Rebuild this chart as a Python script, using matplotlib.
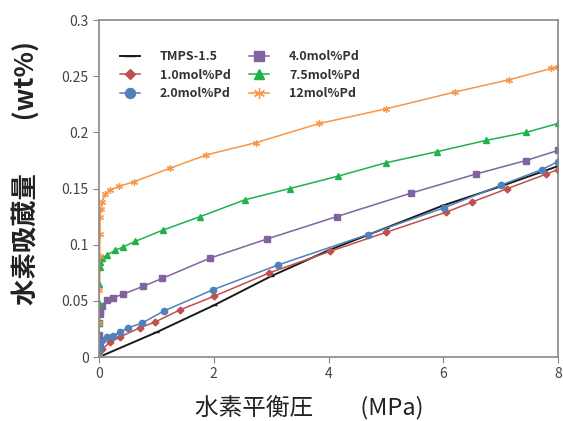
import matplotlib
matplotlib.use("Agg")
import matplotlib.pyplot as plt

plt.rcParams['font.family'] = ['Noto Sans CJK JP', 'DejaVu Sans']

# hydrogen equilibrium pressure (MPa) / hydrogen uptake (wt%)
tmps_x = [0, 1, 2, 3, 4, 5, 6, 7, 8]
tmps_y = [0, 0.022, 0.046, 0.072, 0.095, 0.115, 0.135, 0.152, 0.170]

pd10_x = [0, 0.05, 0.19, 0.37, 0.71, 0.97, 1.41, 2.0, 2.97, 4.02, 5.0, 6.05, 6.5, 7.12, 7.8, 8.0]
pd10_y = [0, 0.007, 0.013, 0.018, 0.026, 0.031, 0.042, 0.054, 0.075, 0.094, 0.111, 0.129, 0.138, 0.150, 0.163, 0.167]

pd20_x = [0, 0.005, 0.01, 0.02, 0.05, 0.13, 0.25, 0.36, 0.5, 0.74, 1.13, 1.99, 3.12, 4.68, 6.02, 7.0, 7.72, 8.0]
pd20_y = [0, 0.005, 0.01, 0.013, 0.015, 0.018, 0.019, 0.022, 0.026, 0.030, 0.041, 0.060, 0.082, 0.109, 0.133, 0.153, 0.167, 0.174]

pd40_x = [0, 0, 0.005, 0.01, 0.02, 0.05, 0.13, 0.25, 0.42, 0.77, 1.1, 1.93, 2.92, 4.14, 5.44, 6.57, 7.44, 8.0]
pd40_y = [0, 0.02, 0.03, 0.038, 0.042, 0.045, 0.051, 0.053, 0.056, 0.063, 0.070, 0.088, 0.105, 0.125, 0.146, 0.163, 0.175, 0.184]

pd75_x = [0, 0, 0, 0.005, 0.01, 0.02, 0.05, 0.14, 0.28, 0.42, 0.63, 1.11, 1.76, 2.54, 3.32, 4.16, 5.0, 5.9, 6.75, 7.44, 8.0]
pd75_y = [0, 0.03, 0.048, 0.065, 0.08, 0.085, 0.088, 0.091, 0.095, 0.098, 0.103, 0.113, 0.125, 0.14, 0.15, 0.161, 0.173, 0.183, 0.193, 0.2, 0.208]

pd12_x = [0, 0.0, 0.005, 0.01, 0.015, 0.02, 0.03, 0.05, 0.1, 0.19, 0.35, 0.6, 1.23, 1.87, 2.74, 3.84, 5.0, 6.2, 7.15, 7.88, 8.0]
pd12_y = [0, 0.03, 0.06, 0.09, 0.11, 0.125, 0.132, 0.138, 0.145, 0.149, 0.152, 0.156, 0.168, 0.18, 0.191, 0.208, 0.221, 0.236, 0.247, 0.257, 0.258]

labels = ['TMPS-1.5', '1.0mol%Pd', '2.0mol%Pd', '4.0mol%Pd', '7.5mol%Pd', '12mol%Pd']
xticks = [0, 2, 4, 6, 8]
yticks = [0, 0.05, 0.1, 0.15, 0.2, 0.25, 0.3]
ytick_labels = ['0', '0.05', '0.1', '0.15', '0.2', '0.25', '0.3']

fig = plt.figure(figsize=(5.63, 4.21), dpi=100)
ax = fig.add_axes([0.176, 0.152, 0.815, 0.8])

ax.plot(tmps_x, tmps_y, color='#1a1a1a', lw=1.4, marker='_', ms=5, label=labels[0])
ax.plot(pd10_x, pd10_y, color='#c0504d', lw=1.1, marker='D', ms=3.5, label=labels[1])
ax.plot(pd20_x, pd20_y, color='#4f81bd', lw=1.1, marker='o', ms=4.5, label=labels[2])
ax.plot(pd40_x, pd40_y, color='#8064a2', lw=1.1, marker='s', ms=4.5, label=labels[3])
ax.plot(pd75_x, pd75_y, color='#1fb24a', lw=1.1, marker='^', ms=4.5, label=labels[4])
ax.plot(pd12_x, pd12_y, color='#f79646', lw=1.1, marker=(6, 2, 0), ms=5, mew=0.9, label=labels[5])

ax.set_xlim(0, 8)
ax.set_ylim(0, 0.3)
ax.set_xticks(xticks)
ax.set_yticks(yticks)
ax.set_yticklabels(ytick_labels)
ax.tick_params(direction='out', length=4, color='#888888', labelcolor='#444444', labelsize=10)
for s in ax.spines.values():
    s.set_color('#888888')
    s.set_linewidth(1.2)

leg = ax.legend(ncol=2, frameon=False, loc='upper left', bbox_to_anchor=(0.02, 0.945),
                prop={'size': 9, 'weight': 'bold'}, markerscale=1.6,
                handlelength=1.6, handletextpad=1.6, columnspacing=1.5, labelspacing=0.45)
for t in leg.get_texts():
    t.set_color('#333333')

fig.text(0.045, 0.59, '水素吸蔵量　　(wt%)', rotation=90, ha='center', va='center',
         fontsize=19, fontweight='bold', color='#222222')
fig.text(0.55, 0.03, '水素平衡圧　　(MPa)', ha='center', va='center', fontsize=17, color='#222222')

fig.savefig('out.png', dpi=100)
